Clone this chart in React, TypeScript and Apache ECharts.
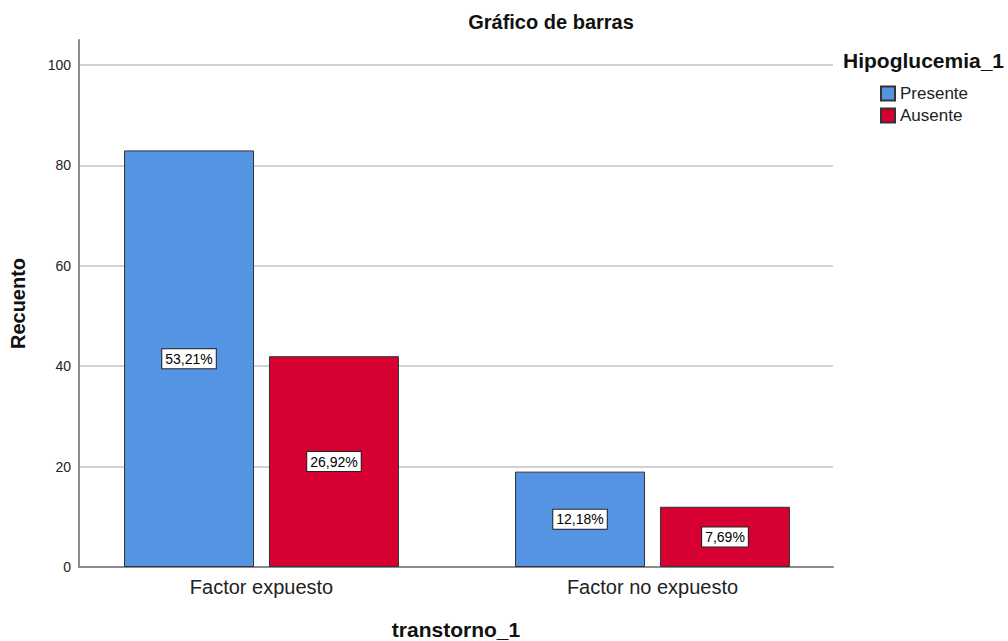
import React, { useEffect, useRef } from "react";
import * as echarts from "echarts";

const categories = ["Factor expuesto", "Factor no expuesto"];
const seriesNames = ["Presente", "Ausente"];
const presente = [83, 19];
const ausente = [42, 12];
const total = 156;
const yTicks = [0, 20, 40, 60, 80, 100];

const FONT = '"Liberation Sans", Arial, sans-serif';

const pct = (v: number) => ((v / total) * 100).toFixed(2).replace(".", ",") + "%";

export default function App() {
  const ref = useRef<HTMLDivElement>(null);
  useEffect(() => {
    if (!ref.current) return;
    const chart = echarts.init(ref.current, null, { renderer: "svg" });
    const labelCfg = {
      show: true,
      position: "inside",
      formatter: (p: any) => pct(p.value),
      backgroundColor: "#ffffff",
      borderColor: "#222222",
      borderWidth: 1,
      padding: [3, 3, 2, 3],
      fontSize: 14,
      fontFamily: FONT,
      color: "#000000",
    };
    const splitColors = yTicks.map(() => "#d2d2d2").concat(["rgba(0,0,0,0)"]);
    chart.setOption({
      animation: false,
      backgroundColor: "#ffffff",
      textStyle: { fontFamily: FONT },
      legend: {
        data: seriesNames,
        orient: "vertical",
        left: 880,
        top: 85,
        padding: 0,
        itemWidth: 14,
        itemHeight: 14,
        itemGap: 5,
        icon: "rect",
        textStyle: { fontSize: 17, color: "#222", fontFamily: FONT },
      },
      graphic: [
        {
          type: "text",
          x: 551,
          y: 12,
          style: {
            text: "Gráfico de barras",
            fontSize: 20,
            fontWeight: "bold",
            fill: "#111",
            fontFamily: FONT,
            align: "center",
          },
        },
        {
          type: "text",
          x: 843,
          y: 50,
          style: {
            text: "Hipoglucemia_1",
            fontSize: 21,
            fontWeight: "bold",
            fill: "#111",
            fontFamily: FONT,
          },
        },
      ],
      grid: [
        { left: 66, right: 160, top: 40, bottom: 74, outerBoundsMode: "none", containLabel: false },
        { left: 79, right: 175, top: 40, bottom: 74, outerBoundsMode: "none", containLabel: false },
      ],
      xAxis: [
        {
          type: "category",
          gridIndex: 0,
          data: categories,
          axisLine: { show: false },
          axisTick: { show: false },
          splitLine: { show: false },
          axisLabel: { fontSize: 20, color: "#222", margin: 10, fontFamily: FONT },
        },
        {
          type: "value",
          gridIndex: 1,
          min: 0,
          max: 1,
          axisLine: { show: true, onZero: false, lineStyle: { color: "#8c8c8c", width: 2 } },
          axisTick: { show: false },
          axisLabel: { show: false },
          splitLine: { show: false },
          name: "transtorno_1",
          nameLocation: "middle",
          nameGap: 52,
          nameTextStyle: { fontSize: 21, fontWeight: "bold", color: "#111", fontFamily: FONT },
        },
      ],
      yAxis: [
        {
          type: "value",
          gridIndex: 0,
          min: 0,
          max: 105,
          axisLine: { show: false },
          axisTick: { show: false },
          axisLabel: { show: false },
          splitLine: { show: false },
        },
        {
          type: "value",
          gridIndex: 1,
          min: 0,
          max: 105,
          interval: 20,
          axisLine: { show: true, lineStyle: { color: "#8c8c8c", width: 2 } },
          axisTick: { show: false },
          axisLabel: {
            fontSize: 14,
            color: "#222",
            margin: 8,
            fontFamily: FONT,
            showMaxLabel: false,
            formatter: (v: number) => (yTicks.includes(v) ? String(v) : ""),
          },
          splitLine: { show: true, lineStyle: { color: splitColors, width: 2 } },
          name: "Recuento",
          nameLocation: "middle",
          nameGap: 51,
          nameRotate: 90,
          nameTextStyle: { fontSize: 20, fontWeight: "bold", color: "#111", fontFamily: FONT },
        },
      ],
      series: [
        {
          name: seriesNames[0],
          type: "bar",
          xAxisIndex: 0,
          yAxisIndex: 0,
          data: presente,
          barWidth: 130,
          barGap: "11.5%",
          itemStyle: { color: "#5594e2", borderColor: "#333333", borderWidth: 1 },
          label: labelCfg,
        },
        {
          name: seriesNames[1],
          type: "bar",
          xAxisIndex: 0,
          yAxisIndex: 0,
          data: ausente,
          barWidth: 130,
          barGap: "11.5%",
          itemStyle: { color: "#d60032", borderColor: "#333333", borderWidth: 1 },
          label: labelCfg,
        },
      ],
    });
    return () => chart.dispose();
  }, []);
  return (
    <div
      ref={ref}
      style={{ position: "fixed", left: 0, top: 0, width: 1008, height: 641, background: "#fff" }}
    />
  );
}
